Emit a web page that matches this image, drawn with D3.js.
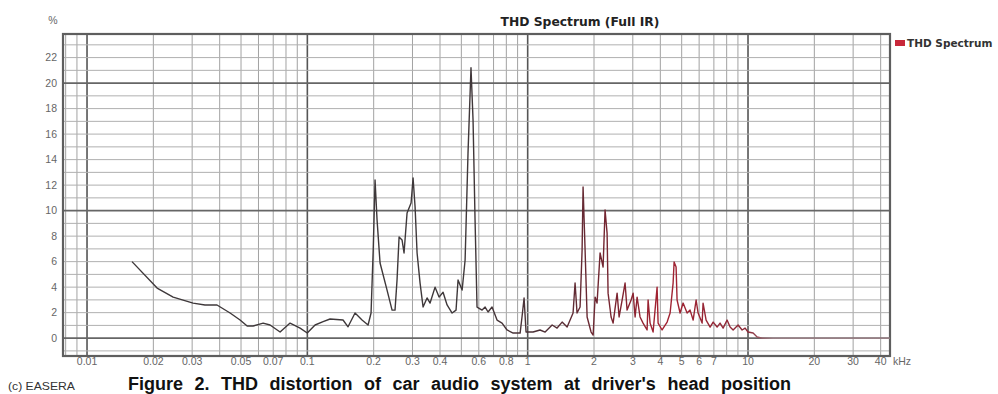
<!DOCTYPE html>
<html>
<head>
<meta charset="utf-8">
<script src="https://cdn.jsdelivr.net/npm/d3@7"></script>
<style>
  html, body { margin: 0; padding: 0; background: #fff; }
  svg { display: block; }
</style>
</head>
<body>
<svg id="chart" width="998" height="394"></svg>
<script>
// ---------- data ----------
const freqKHz = [0.0160, 0.0208, 0.0246, 0.0303, 0.0343, 0.0389, 0.0446, 0.0495, 0.0533, 0.0567,
  0.0630, 0.0677, 0.0752, 0.0835, 0.0927, 0.0999, 0.1084, 0.1179, 0.1268, 0.1452,
  0.153, 0.1646, 0.1771, 0.1886, 0.1946, 0.199, 0.2029, 0.2072, 0.2138, 0.230,
  0.2424, 0.250, 0.2553, 0.2608, 0.269, 0.2747, 0.2835, 0.2956, 0.3019, 0.3083,
  0.3148, 0.3248, 0.3351, 0.3494, 0.3606, 0.3799, 0.3961, 0.413, 0.4307, 0.454,
  0.473, 0.483, 0.504, 0.520, 0.536, 0.553, 0.565, 0.577, 0.589, 0.621,
  0.641, 0.661, 0.689, 0.726, 0.765, 0.806, 0.859, 0.924, 0.943, 0.963,
  0.983, 1.058, 1.138, 1.200, 1.291, 1.360, 1.433, 1.510, 1.558, 1.607,
  1.641, 1.675, 1.729, 1.766, 1.784, 1.822, 1.861, 1.940, 1.982, 2.023,
  2.065, 2.131, 2.199, 2.245, 2.293, 2.317, 2.391, 2.442, 2.546, 2.600,
  2.683, 2.767, 2.826, 2.947, 3.010, 3.073, 3.138, 3.236, 3.340, 3.483,
  3.520, 3.594, 3.709, 3.867, 3.908, 4.074, 4.294, 4.430, 4.571, 4.619,
  4.716, 4.765, 4.917, 5.074, 5.291, 5.458, 5.636, 5.814, 5.936, 6.190,
  6.252, 6.454, 6.730, 6.945, 7.242, 7.466, 7.709, 8.035, 8.293, 8.559,
  9.016, 9.402, 9.701, 10.0, 10.55, 11.0, 11.6, 20.0, 44.0];
const thdPercent = [6.0, 3.93, 3.22, 2.75, 2.6, 2.6, 1.97, 1.42, 0.95, 0.95,
  1.18, 1.03, 0.48, 1.18, 0.79, 0.4, 1.03, 1.29, 1.5, 1.42,
  0.89, 1.97, 1.42, 1.03, 1.97, 6.9, 12.4, 9.26, 5.89, 3.77,
  2.2, 2.2, 4.56, 7.93, 7.7, 6.68, 9.81, 10.6, 12.56, 10.28,
  6.68, 4.32, 2.44, 3.15, 2.75, 4.0, 3.22, 3.6, 2.6, 1.97,
  2.2, 4.56, 3.77, 6.13, 14.5, 21.2, 17.1, 9.26, 2.44, 2.2,
  2.44, 2.05, 2.44, 1.42, 1.18, 0.64, 0.4, 0.4, 1.7, 3.15,
  0.48, 0.48, 0.64, 0.48, 1.03, 0.79, 1.26, 0.87, 1.42, 1.97,
  4.32, 1.97, 2.44, 6.91, 11.85, 6.91, 1.66, 0.48, 0.24, 3.22,
  2.75, 6.68, 5.58, 10.05, 8.24, 3.53, 1.66, 1.18, 3.53, 1.66,
  2.99, 4.32, 2.2, 2.99, 3.53, 1.66, 3.22, 1.66, 1.18, 0.64,
  2.99, 1.18, 0.48, 4.0, 1.18, 0.64, 1.26, 1.97, 4.32, 5.97,
  5.58, 2.99, 1.97, 2.75, 1.97, 2.2, 1.42, 2.99, 1.97, 1.18,
  2.75, 1.42, 0.87, 1.26, 0.87, 1.18, 0.79, 1.42, 0.87, 0.64,
  1.03, 0.64, 0.79, 0.48, 0.4, 0.09, 0.0, 0.0, 0.0];

const xTickLabels = ["0.01","0.02","0.03","0.05","0.07","0.1","0.2","0.3","0.4","0.6","0.8",
  "1","2","3","4","5","6","7","10","20","30","40"];
const yTickLabels = ["0","2","4","6","8","10","12","14","16","18","20","22"];

const chartTitle = "THD Spectrum (Full IR)";
const legendLabel = "THD Spectrum";
const xUnit = "kHz";
const yUnit = "%";
const caption = "Figure 2. THD distortion of car audio system at driver's head position";
const credit = "(c) EASERA";

// ---------- layout ----------
const svg = d3.select("#chart");
const L = 63, T = 34, R = 890, B = 356;

const x = d3.scaleLog().domain([0.00778, 44.1]).range([L, R]);
const y = d3.scaleLinear().domain([-1.4, 23.85]).range([B, T]);

// grid - vertical
const gridF = [];
[0.001, 0.01, 0.1, 1, 10].forEach(d => {
  for (let m = 1; m <= 9; m++) {
    const f = +(m * d).toPrecision(6);
    if (f > x.domain()[0] && f < x.domain()[1]) gridF.push(f);
  }
});
const isDecade = d => [0.01, 0.1, 1, 10].includes(d);
const g = svg.append("g");
g.selectAll("line.vg").data(gridF).join("line")
  .attr("x1", d => x(d)).attr("x2", d => x(d))
  .attr("y1", T).attr("y2", B)
  .attr("stroke", d => isDecade(d) ? "#555" : "#a2a2a2")
  .attr("stroke-width", d => isDecade(d) ? 1.6 : 1);

// grid - horizontal (every 1 %)
const hLines = d3.range(-1, 24);
g.selectAll("line.hg").data(hLines).join("line")
  .attr("x1", L).attr("x2", R)
  .attr("y1", d => y(d)).attr("y2", d => y(d))
  .attr("stroke", d => (d % 10 === 0) ? "#666" : "#b0b0b0")
  .attr("stroke-width", d => (d % 10 === 0) ? 1.6 : 1);

// frame
svg.append("rect").attr("x", L).attr("y", T).attr("width", R - L).attr("height", B - T)
  .attr("fill", "none").attr("stroke", "#5e5e5e").attr("stroke-width", 2.2);

// gradient for curve colour
const defs = svg.append("defs");
const grad = defs.append("linearGradient").attr("id", "lineGrad")
  .attr("gradientUnits", "userSpaceOnUse")
  .attr("x1", L).attr("x2", R).attr("y1", 0).attr("y2", 0);
const stops = [[0.5, "#3e383a"], [1.2, "#4e3036"], [2.5, "#7a2430"], [4, "#a42232"], [10, "#8a2a38"], [13, "#a88890"]];
stops.forEach(([f, c]) => grad.append("stop")
  .attr("offset", (x(f) - L) / (R - L)).attr("stop-color", c));

// curve
const pts = freqKHz.map((f, i) => [f, thdPercent[i]]);
const line = d3.line().x(d => x(d[0])).y(d => y(d[1]));
svg.append("path").datum(pts)
  .attr("d", line)
  .attr("fill", "none")
  .attr("stroke", "url(#lineGrad)")
  .attr("stroke-width", 1.4)
  .attr("stroke-linejoin", "round");

// axes labels
const font = "'Liberation Sans', Arial, sans-serif";
svg.append("g").selectAll("text").data(xTickLabels).join("text")
  .attr("x", d => x(+d)).attr("y", 365)
  .attr("text-anchor", "middle")
  .attr("font-family", font).attr("font-size", 10.5).attr("fill", "#666")
  .text(d => d);
svg.append("text").attr("x", 902).attr("y", 365).attr("text-anchor", "middle")
  .attr("font-family", font).attr("font-size", 10.5).attr("fill", "#666").text(xUnit);

svg.append("g").selectAll("text").data(yTickLabels).join("text")
  .attr("x", 57).attr("y", d => y(+d)).attr("dy", "0.35em")
  .attr("text-anchor", "end")
  .attr("font-family", font).attr("font-size", 10.5).attr("fill", "#666")
  .text(d => d);
svg.append("text").attr("x", 53).attr("y", 20).attr("dy", "0.35em").attr("text-anchor", "middle")
  .attr("font-family", font).attr("font-size", 10.5).attr("fill", "#666").text(yUnit);

// title
svg.append("text").attr("x", 580).attr("y", 26).attr("text-anchor", "middle")
  .attr("font-family", "'DejaVu Sans', sans-serif").attr("font-weight", "bold")
  .attr("font-size", 12.3).attr("fill", "#222").text(chartTitle);

// legend
svg.append("rect").attr("x", 895).attr("y", 40).attr("width", 10).attr("height", 6)
  .attr("fill", "#c8283a");
svg.append("text").attr("x", 907).attr("y", 43).attr("dy", "0.35em")
  .attr("font-family", "'DejaVu Sans', sans-serif").attr("font-weight", "bold")
  .attr("font-size", 10.5).attr("fill", "#333").text(legendLabel);

// captions
svg.append("text").attr("x", 8).attr("y", 390)
  .attr("font-family", font).attr("font-size", 11.5).attr("fill", "#333")
  .attr("textLength", 67).attr("lengthAdjust", "spacingAndGlyphs").text(credit);
svg.append("text").attr("x", 128).attr("y", 390)
  .attr("font-family", font).attr("font-weight", "bold")
  .attr("font-size", 18).attr("fill", "#111")
  .attr("word-spacing", 6.5)
  .text(caption);
</script>
</body>
</html>
